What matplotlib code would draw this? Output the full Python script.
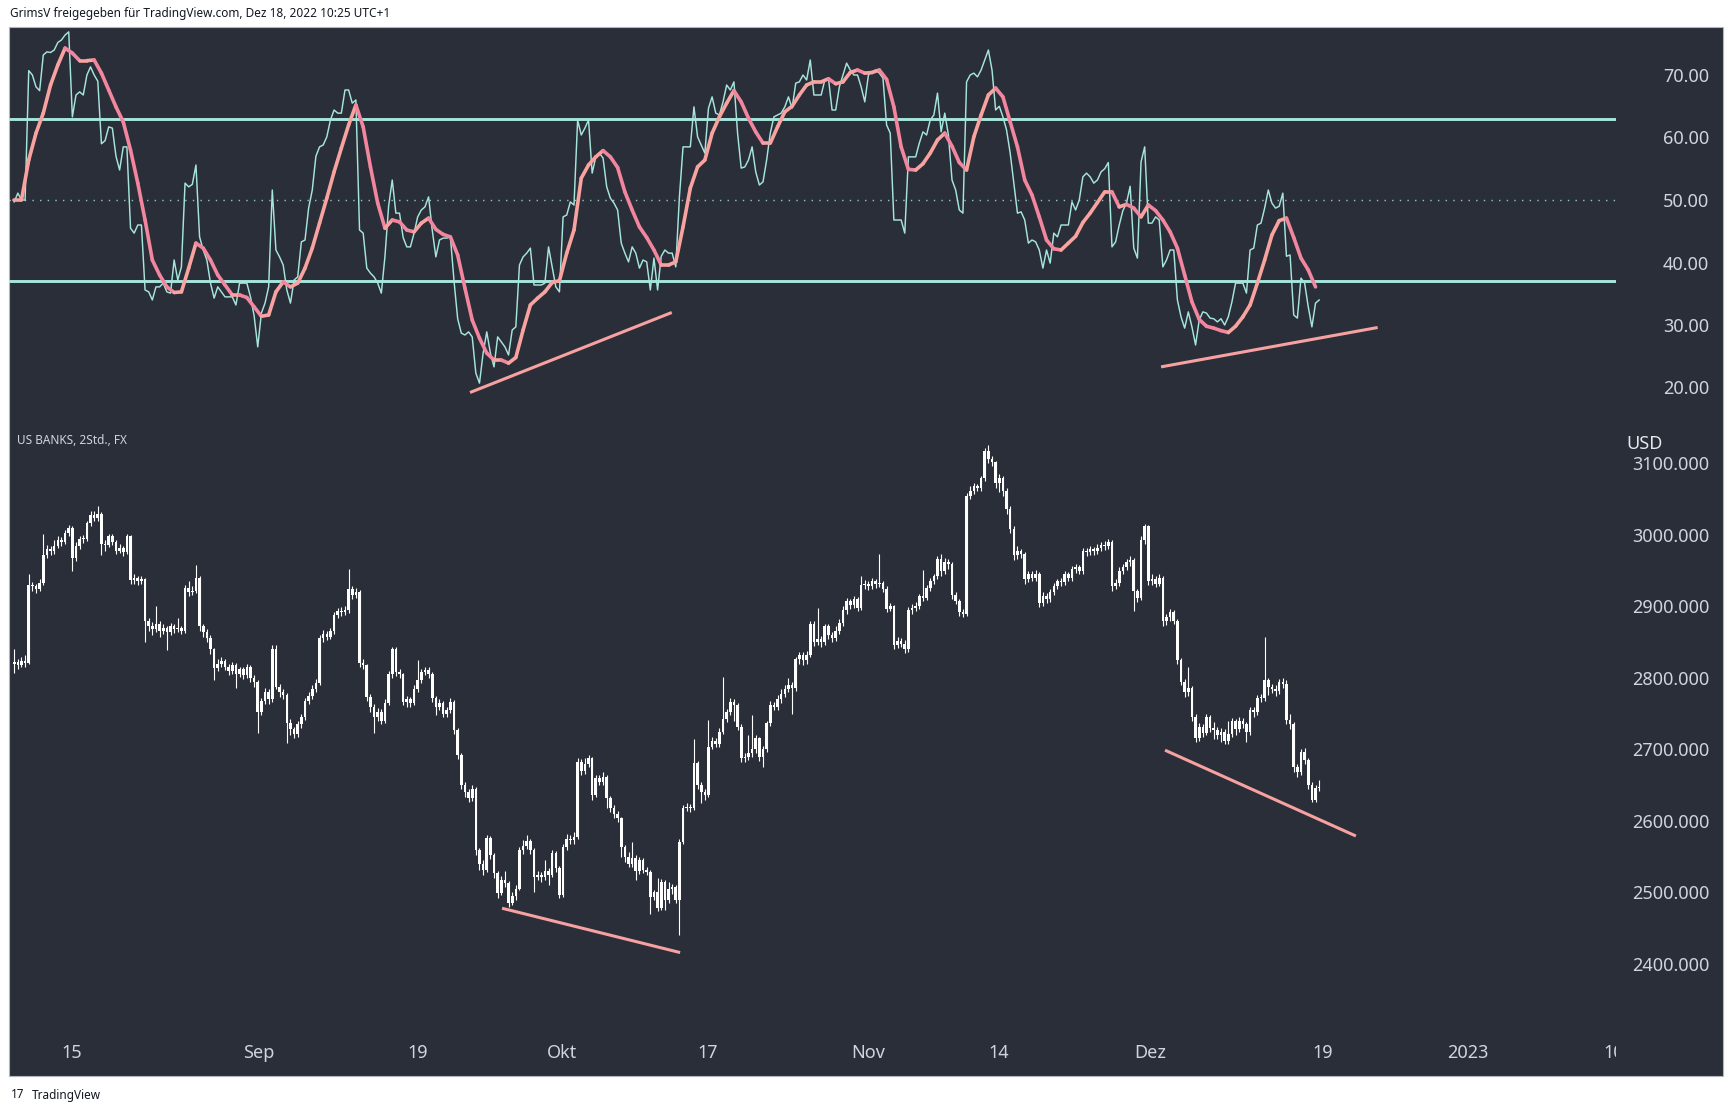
import matplotlib.pyplot as plt
import numpy as np
from matplotlib.collections import LineCollection
from matplotlib.patches import Rectangle

plt.rcParams["font.family"] = ["Noto Sans", "DejaVu Sans"]

W, H = 1734, 1112

# --- US BANKS, 2h candles (Aug 9 .. Dec 16 2022), one entry per bar ---
opens = [
    2820, 2822, 2818, 2824, 2821, 2930, 2928, 2924, 2933, 2972,
    2980, 2977, 2985, 2993, 2990, 3003, 3010, 2968, 2985, 2995,
    2994, 3017, 3028, 3024, 3030, 2988, 2986, 2998, 2990, 2978,
    2982, 2976, 2998, 2937, 2940, 2935, 2938, 2879, 2872, 2868,
    2875, 2866, 2870, 2864, 2872, 2868, 2870, 2866, 2926, 2920,
    2922, 2940, 2872, 2865, 2856, 2840, 2814, 2820, 2824, 2816,
    2810, 2818, 2806, 2812, 2804, 2815, 2800, 2795, 2752, 2768,
    2780, 2770, 2840, 2788, 2780, 2776, 2737, 2728, 2722, 2735,
    2745, 2768, 2775, 2785, 2793, 2856, 2862, 2858, 2866, 2888,
    2894, 2892, 2895, 2924, 2916, 2920, 2821, 2818, 2774, 2760,
    2745, 2752, 2740, 2765, 2805, 2840, 2808, 2805, 2767, 2770,
    2765, 2785, 2797, 2808, 2811, 2805, 2772, 2760, 2765, 2750,
    2755, 2767, 2727, 2692, 2650, 2640, 2632, 2645, 2559, 2540,
    2532, 2576, 2552, 2527, 2499, 2518, 2513, 2485, 2495, 2505,
    2559, 2565, 2572, 2560, 2522, 2524, 2522, 2530, 2525, 2555,
    2534, 2497, 2564, 2575, 2573, 2578, 2683, 2670, 2680, 2688,
    2636, 2660, 2655, 2662, 2632, 2618, 2610, 2604, 2564, 2550,
    2540, 2548, 2530, 2545, 2531, 2529, 2494, 2500, 2478, 2515,
    2490, 2505, 2508, 2489, 2571, 2618, 2620, 2618, 2681, 2650,
    2640, 2636, 2704, 2712, 2708, 2725, 2743, 2752, 2766, 2762,
    2732, 2688, 2690, 2695, 2700, 2716, 2690, 2700, 2737, 2762,
    2760, 2770, 2778, 2785, 2790, 2786, 2826, 2832, 2825, 2832,
    2876, 2850, 2855, 2850, 2872, 2860, 2856, 2866, 2877, 2895,
    2908, 2902, 2910, 2898, 2930, 2932, 2928, 2935, 2931, 2933,
    2925, 2897, 2900, 2846, 2852, 2848, 2840, 2895, 2898, 2900,
    2914, 2912, 2926, 2935, 2942, 2966, 2950, 2962, 2960, 2916,
    2908, 2892, 2890, 3054, 3062, 3068, 3066, 3079, 3117, 3106,
    3102, 3072, 3080, 3062, 3036, 3008, 2972, 2978, 2973, 2938,
    2945, 2940, 2946, 2905, 2915, 2910, 2920, 2928, 2935, 2934,
    2945, 2940, 2952, 2955, 2950, 2978, 2976, 2980, 2977, 2982,
    2986, 2984, 2990, 2928, 2933, 2950, 2955, 2962, 2965, 2921,
    2912, 2993, 3012, 2935, 2938, 2932, 2940, 2879, 2885, 2892,
    2880, 2825, 2795, 2780, 2786, 2746, 2716, 2732, 2723, 2745,
    2730, 2727, 2720, 2725, 2712, 2722, 2740, 2728, 2740, 2735,
    2724, 2755, 2752, 2772, 2772, 2797, 2788, 2784, 2782, 2795,
    2792, 2741, 2735, 2676, 2668, 2697, 2685, 2650, 2630, 2646,
]
closes = [
    2822, 2818, 2824, 2821, 2930, 2928, 2924, 2933, 2972, 2980,
    2977, 2985, 2993, 2990, 3003, 3010, 2968, 2985, 2995, 2994,
    3017, 3028, 3024, 3030, 2988, 2986, 2998, 2990, 2978, 2982,
    2976, 2998, 2937, 2940, 2935, 2938, 2879, 2872, 2868, 2875,
    2866, 2870, 2864, 2872, 2868, 2870, 2866, 2926, 2920, 2922,
    2940, 2872, 2865, 2856, 2840, 2814, 2820, 2824, 2816, 2810,
    2818, 2806, 2812, 2804, 2815, 2800, 2795, 2752, 2768, 2780,
    2770, 2840, 2788, 2780, 2776, 2737, 2728, 2722, 2735, 2745,
    2768, 2775, 2785, 2793, 2856, 2862, 2858, 2866, 2888, 2894,
    2892, 2895, 2924, 2916, 2920, 2821, 2818, 2774, 2760, 2745,
    2752, 2740, 2765, 2805, 2840, 2808, 2805, 2767, 2770, 2765,
    2785, 2797, 2808, 2811, 2805, 2772, 2760, 2765, 2750, 2755,
    2767, 2727, 2692, 2650, 2640, 2632, 2645, 2559, 2540, 2532,
    2576, 2552, 2527, 2499, 2518, 2513, 2485, 2495, 2505, 2559,
    2565, 2572, 2560, 2522, 2524, 2522, 2530, 2525, 2555, 2534,
    2497, 2564, 2575, 2573, 2578, 2683, 2670, 2680, 2688, 2636,
    2660, 2655, 2662, 2632, 2618, 2610, 2604, 2564, 2550, 2540,
    2548, 2530, 2545, 2531, 2529, 2494, 2500, 2478, 2515, 2490,
    2505, 2508, 2489, 2571, 2618, 2620, 2618, 2681, 2650, 2640,
    2636, 2704, 2712, 2708, 2725, 2743, 2752, 2766, 2762, 2732,
    2688, 2690, 2695, 2700, 2716, 2690, 2700, 2737, 2762, 2760,
    2770, 2778, 2785, 2790, 2786, 2826, 2832, 2825, 2832, 2876,
    2850, 2855, 2850, 2872, 2860, 2856, 2866, 2877, 2895, 2908,
    2902, 2910, 2898, 2930, 2932, 2928, 2935, 2931, 2933, 2925,
    2897, 2900, 2846, 2852, 2848, 2840, 2895, 2898, 2900, 2914,
    2912, 2926, 2935, 2942, 2966, 2950, 2962, 2960, 2916, 2908,
    2892, 2890, 3054, 3062, 3068, 3066, 3079, 3117, 3106, 3102,
    3072, 3080, 3062, 3036, 3008, 2972, 2978, 2973, 2938, 2945,
    2940, 2946, 2905, 2915, 2910, 2920, 2928, 2935, 2934, 2945,
    2940, 2952, 2955, 2950, 2978, 2976, 2980, 2977, 2982, 2986,
    2984, 2990, 2928, 2933, 2950, 2955, 2962, 2965, 2921, 2912,
    2993, 3012, 2935, 2938, 2932, 2940, 2879, 2885, 2892, 2880,
    2825, 2795, 2780, 2786, 2746, 2716, 2732, 2723, 2745, 2730,
    2727, 2720, 2725, 2712, 2722, 2740, 2728, 2740, 2735, 2724,
    2755, 2752, 2772, 2772, 2797, 2788, 2784, 2782, 2795, 2792,
    2741, 2735, 2676, 2668, 2697, 2685, 2650, 2630, 2646, 2648,
]
highs = [
    2840, 2826, 2829, 2832, 2945, 2934, 2931, 2938, 3002, 2986,
    2984, 2993, 2998, 2997, 3007, 3014, 3012, 2990, 2999, 3000,
    3020, 3033, 3033, 3041, 3032, 2993, 3002, 3001, 2993, 2988,
    2985, 3002, 3000, 2945, 2943, 2942, 2940, 2884, 2878, 2900,
    2879, 2876, 2873, 2877, 2875, 2884, 2873, 2930, 2935, 2928,
    2958, 2942, 2876, 2868, 2860, 2842, 2826, 2829, 2827, 2820,
    2823, 2821, 2816, 2815, 2820, 2818, 2804, 2797, 2772, 2786,
    2784, 2846, 2846, 2792, 2784, 2779, 2742, 2732, 2740, 2749,
    2772, 2780, 2790, 2798, 2860, 2867, 2866, 2870, 2892, 2898,
    2899, 2900, 2952, 2928, 2926, 2923, 2826, 2820, 2778, 2764,
    2758, 2756, 2770, 2810, 2844, 2843, 2812, 2807, 2775, 2774,
    2790, 2825, 2812, 2816, 2815, 2808, 2775, 2770, 2768, 2760,
    2772, 2769, 2730, 2695, 2654, 2645, 2650, 2647, 2562, 2545,
    2580, 2579, 2555, 2530, 2523, 2530, 2516, 2500, 2510, 2563,
    2574, 2580, 2575, 2562, 2530, 2528, 2545, 2534, 2560, 2558,
    2537, 2568, 2582, 2580, 2585, 2688, 2686, 2688, 2692, 2690,
    2665, 2664, 2668, 2664, 2635, 2622, 2614, 2606, 2567, 2556,
    2570, 2552, 2550, 2548, 2536, 2532, 2504, 2520, 2519, 2518,
    2515, 2512, 2511, 2575, 2622, 2625, 2624, 2715, 2684, 2654,
    2645, 2741, 2718, 2716, 2730, 2802, 2757, 2772, 2770, 2765,
    2735, 2695, 2720, 2748, 2720, 2718, 2705, 2740, 2768, 2766,
    2776, 2784, 2790, 2800, 2795, 2830, 2837, 2836, 2838, 2880,
    2879, 2898, 2859, 2876, 2875, 2865, 2872, 2882, 2900, 2912,
    2911, 2914, 2913, 2942, 2937, 2936, 2940, 2939, 2974, 2936,
    2928, 2905, 2902, 2858, 2856, 2853, 2899, 2903, 2906, 2918,
    2951, 2930, 2940, 2946, 2970, 2974, 2968, 2966, 2962, 2920,
    2911, 2896, 3058, 3068, 3073, 3071, 3083, 3121, 3126, 3110,
    3104, 3085, 3083, 3066, 3040, 3012, 2984, 2981, 2976, 2950,
    2949, 2951, 2948, 2920, 2919, 2925, 2933, 2939, 2940, 2950,
    2948, 2957, 2960, 2958, 2982, 2982, 2985, 2983, 2987, 2990,
    2992, 2995, 2993, 2938, 2955, 2960, 2966, 2970, 2968, 2925,
    2998, 3015, 3014, 2946, 2942, 2945, 2942, 2890, 2897, 2895,
    2882, 2828, 2798, 2816, 2789, 2750, 2737, 2736, 2749, 2748,
    2738, 2731, 2730, 2728, 2740, 2744, 2743, 2745, 2744, 2739,
    2760, 2760, 2776, 2778, 2858, 2800, 2792, 2790, 2799, 2800,
    2797, 2750, 2738, 2680, 2700, 2702, 2688, 2654, 2650, 2657,
]
lows = [
    2807, 2812, 2815, 2816, 2819, 2922, 2919, 2921, 2930, 2968,
    2972, 2974, 2982, 2985, 2988, 2999, 2949, 2963, 2981, 2989,
    2991, 3013, 3019, 3020, 2972, 2978, 2983, 2986, 2974, 2975,
    2971, 2973, 2932, 2931, 2930, 2932, 2851, 2866, 2860, 2865,
    2858, 2862, 2839, 2860, 2863, 2864, 2861, 2863, 2915, 2916,
    2919, 2866, 2858, 2850, 2834, 2797, 2810, 2815, 2811, 2804,
    2806, 2786, 2801, 2799, 2800, 2795, 2788, 2723, 2748, 2764,
    2764, 2767, 2784, 2774, 2770, 2709, 2720, 2716, 2718, 2730,
    2741, 2763, 2771, 2780, 2790, 2851, 2853, 2854, 2862, 2884,
    2887, 2888, 2891, 2911, 2912, 2816, 2812, 2768, 2752, 2723,
    2740, 2735, 2737, 2762, 2800, 2803, 2800, 2762, 2760, 2759,
    2762, 2781, 2793, 2804, 2800, 2766, 2748, 2755, 2745, 2746,
    2751, 2722, 2686, 2645, 2633, 2627, 2628, 2552, 2531, 2525,
    2529, 2547, 2520, 2493, 2496, 2508, 2480, 2482, 2490, 2503,
    2554, 2561, 2554, 2500, 2518, 2515, 2518, 2510, 2521, 2529,
    2493, 2494, 2560, 2568, 2568, 2575, 2664, 2666, 2675, 2630,
    2633, 2650, 2650, 2618, 2612, 2604, 2598, 2550, 2543, 2535,
    2536, 2518, 2526, 2527, 2524, 2470, 2490, 2474, 2475, 2475,
    2486, 2498, 2485, 2441, 2568, 2614, 2613, 2615, 2645, 2625,
    2630, 2633, 2700, 2703, 2704, 2721, 2739, 2748, 2740, 2727,
    2682, 2683, 2685, 2690, 2695, 2684, 2676, 2697, 2733, 2755,
    2755, 2765, 2773, 2780, 2750, 2782, 2820, 2818, 2820, 2829,
    2845, 2846, 2844, 2846, 2854, 2850, 2852, 2862, 2873, 2890,
    2897, 2898, 2893, 2895, 2925, 2923, 2924, 2926, 2927, 2920,
    2892, 2893, 2840, 2842, 2843, 2835, 2837, 2890, 2894, 2896,
    2907, 2909, 2922, 2931, 2938, 2943, 2946, 2953, 2910, 2903,
    2887, 2885, 2887, 3050, 3057, 3061, 3062, 3075, 3100, 3097,
    3066, 3060, 3055, 3030, 3003, 2965, 2966, 2968, 2932, 2934,
    2935, 2936, 2899, 2900, 2905, 2906, 2916, 2924, 2929, 2930,
    2935, 2936, 2947, 2945, 2946, 2970, 2972, 2972, 2973, 2978,
    2979, 2980, 2922, 2924, 2929, 2946, 2951, 2957, 2893, 2906,
    2909, 2988, 2930, 2930, 2927, 2928, 2873, 2874, 2880, 2875,
    2820, 2790, 2774, 2775, 2740, 2710, 2712, 2718, 2720, 2725,
    2715, 2714, 2711, 2707, 2708, 2718, 2720, 2724, 2730, 2711,
    2720, 2745, 2748, 2767, 2768, 2776, 2779, 2775, 2778, 2786,
    2736, 2728, 2668, 2662, 2664, 2680, 2645, 2626, 2627, 2642,
]

# --- RSI (one value per bar) and its moving average (every second bar) ---
rsi = [
    49.7, 51.1, 50.0, 50.0, 70.7, 70.0, 68.1, 67.5, 73.2, 73.7,
    73.6, 74.0, 75.2, 75.6, 76.4, 76.9, 63.3, 66.8, 67.3, 66.8,
    70.0, 71.3, 70.0, 69.0, 59.0, 59.5, 61.7, 61.5, 57.0, 54.8,
    58.5, 58.5, 45.5, 44.7, 46.0, 46.0, 35.6, 35.3, 34.0, 36.1,
    36.1, 36.7, 35.3, 35.1, 40.4, 37.2, 39.3, 52.7, 52.1, 52.5,
    55.6, 44.1, 42.0, 40.4, 36.7, 34.3, 36.1, 35.3, 34.5, 34.5,
    34.5, 33.2, 36.7, 36.7, 36.7, 34.5, 31.5, 26.5, 31.9, 33.5,
    36.1, 51.6, 42.0, 40.9, 39.6, 35.6, 33.5, 37.2, 37.7, 43.3,
    43.6, 48.7, 51.6, 57.0, 58.5, 58.8, 60.1, 62.8, 64.4, 63.9,
    63.9, 67.6, 67.6, 65.5, 66.0, 45.2, 44.7, 39.1, 38.3, 37.7,
    36.7, 35.1, 41.0, 49.0, 53.2, 47.9, 47.9, 44.0, 42.5, 42.5,
    44.7, 47.3, 48.4, 48.9, 50.5, 45.2, 40.9, 43.6, 43.9, 43.9,
    44.1, 37.0, 31.0, 28.7, 28.4, 28.9, 28.1, 22.3, 20.7, 25.5,
    28.9, 25.5, 23.3, 28.1, 27.3, 26.5, 25.2, 29.2, 29.7, 39.6,
    40.9, 41.5, 42.3, 36.4, 36.4, 36.4, 36.7, 42.5, 39.3, 36.1,
    35.3, 47.3, 47.6, 49.7, 49.2, 62.8, 60.4, 61.5, 62.8, 54.3,
    56.9, 57.5, 56.7, 52.1, 50.3, 49.5, 48.4, 43.1, 41.5, 40.1,
    42.5, 41.5, 39.1, 40.4, 40.1, 35.6, 40.7, 35.6, 41.0, 42.0,
    41.5, 41.5, 39.3, 50.5, 58.5, 58.5, 58.5, 64.9, 60.1, 58.8,
    57.5, 64.7, 66.5, 63.9, 63.6, 65.7, 68.4, 67.6, 68.9, 60.7,
    55.1, 55.3, 56.4, 58.5, 54.5, 52.4, 52.9, 56.4, 60.7, 63.3,
    63.6, 63.9, 64.9, 66.5, 64.7, 68.7, 68.9, 70.0, 69.2, 72.4,
    66.8, 66.8, 66.8, 69.2, 69.5, 64.4, 64.4, 68.1, 70.0, 71.9,
    70.8, 70.0, 70.0, 68.1, 65.7, 70.0, 70.5, 70.8, 70.3, 69.5,
    62.0, 60.7, 46.8, 46.8, 46.8, 44.7, 56.9, 56.9, 56.9, 59.1,
    60.9, 60.4, 62.8, 63.6, 67.1, 60.9, 63.9, 60.4, 53.2, 51.6,
    48.4, 47.9, 68.9, 70.0, 70.3, 69.7, 70.8, 72.4, 74.0, 70.8,
    64.4, 65.0, 63.3, 61.2, 57.5, 52.7, 47.9, 48.1, 46.8, 43.1,
    43.6, 43.3, 42.0, 39.1, 42.0, 39.9, 44.7, 44.1, 46.0, 46.0,
    46.0, 49.7, 48.4, 50.0, 53.7, 54.3, 53.7, 52.7, 53.2, 54.5,
    55.0, 56.0, 42.5, 43.3, 46.0, 48.3, 49.5, 52.2, 42.3, 40.7,
    56.1, 58.5, 46.3, 46.3, 47.3, 46.8, 39.3, 40.4, 42.0, 42.0,
    34.0, 31.3, 29.5, 32.1, 29.7, 26.8, 30.8, 32.1, 31.9, 31.1,
    31.0, 30.5, 31.0, 30.0, 31.3, 33.7, 36.7, 36.7, 36.7, 35.1,
    42.0, 42.3, 46.0, 46.3, 48.7, 51.6, 49.5, 48.7, 49.0, 51.1,
    41.0, 41.2, 31.6, 31.1, 37.5, 36.7, 32.9, 29.7, 33.5, 34.0,
]
rsi_ma = [
    50.0, 50.0, 56.4, 60.7, 63.9, 68.4, 71.6, 74.3, 73.5, 72.3,
    72.3, 72.4, 70.3, 67.6, 64.9, 62.5, 58.0, 52.7, 46.8, 40.4,
    38.0, 36.1, 35.2, 35.3, 39.1, 43.1, 42.3, 40.4, 38.0, 36.4,
    34.8, 34.8, 34.4, 32.9, 31.4, 31.6, 35.3, 36.9, 36.1, 36.7,
    39.1, 42.3, 46.3, 50.3, 54.5, 58.3, 62.0, 65.2, 61.7, 55.3,
    49.5, 45.5, 46.8, 46.5, 45.2, 44.9, 46.3, 47.1, 45.3, 44.5,
    44.1, 41.2, 35.9, 30.8, 27.9, 25.5, 24.4, 24.4, 23.9, 24.8,
    29.2, 33.2, 34.3, 35.3, 36.8, 37.1, 41.5, 45.2, 53.5, 55.6,
    56.9, 57.9, 56.9, 55.2, 51.3, 48.4, 45.7, 44.0, 42.0, 39.6,
    39.6, 40.1, 45.7, 51.9, 55.3, 56.4, 60.7, 63.3, 65.5, 67.5,
    65.7, 63.1, 60.9, 59.1, 59.1, 61.7, 64.1, 65.0, 66.8, 68.4,
    68.9, 68.9, 69.4, 68.6, 68.9, 70.4, 70.8, 70.3, 70.4, 70.8,
    69.3, 64.9, 58.5, 54.9, 54.8, 55.8, 57.5, 59.6, 60.7, 58.6,
    56.0, 54.8, 60.1, 63.6, 66.8, 67.9, 66.5, 62.5, 58.5, 53.2,
    50.8, 47.3, 43.6, 42.2, 42.0, 43.1, 44.2, 46.4, 47.9, 49.6,
    51.3, 51.3, 48.9, 49.3, 48.7, 47.3, 49.2, 48.3, 46.8, 44.9,
    42.3, 38.0, 33.7, 30.9, 29.8, 29.5, 29.1, 28.8, 29.8, 31.3,
    33.2, 36.7, 40.4, 44.4, 46.7, 47.1, 44.0, 40.7, 38.8, 36.1,
]
rsi_levels = [63, 37]
rsi_mid = 50

# hand-drawn divergence lines (bar index, value)
rsi_div = [((125.4, 19.2), (180.9, 32.0)), ((315.5, 23.3), (375.1, 29.6))]
price_div = [((134.2, 2478), (183.2, 2416)), ((316.6, 2699), (369.1, 2579))]

rsi_ticks = [20, 30, 40, 50, 60, 70]
price_ticks = [2400, 2500, 2600, 2700, 2800, 2900, 3000, 3100]
time_labels = ["15", "Sep", "19", "Okt", "17", "Nov", "14", "Dez", "19", "2023", "10"]
time_pos = [15.9, 67.4, 111.1, 150.7, 190.9, 234.9, 270.9, 312.5, 360.1, 399.9, 440.0]

BG = "#2a2e39"
TXT = "#d1d4dc"
CYAN = "#a6e5dc"
PINK_UP = "#f9a3a0"
PINK_DN = "#f2869f"
DIV = "#f7a1a1"


def fig_box(x0, y0, x1, y1):
    return [x0 / W, 1 - y1 / H, (x1 - x0) / W, (y1 - y0) / H]


def clean(ax):
    ax.set_facecolor("none")
    for s in ax.spines.values():
        s.set_visible(False)
    ax.tick_params(length=0)


fig = plt.figure(figsize=(W / 100, H / 100), dpi=100)
fig.patch.set_facecolor("white")
fig.patches.append(Rectangle((9 / W, 1 - 1076 / H), (1723 - 9) / W, (1076 - 27) / H,
                             transform=fig.transFigure, facecolor=BG,
                             edgecolor="#b2b5be", lw=0.8, zorder=-1))

xlim = ((9 - 14.2) / 3.635, (1616 - 14.2) / 3.635)

# ---------------- RSI pane ----------------
ax1 = fig.add_axes(fig_box(9, 27, 1616, 425))
clean(ax1)
for lv in rsi_levels:
    ax1.axhline(lv, color=CYAN, lw=2.1, zorder=1)
ax1.axhline(rsi_mid, color=CYAN, lw=1.0, ls=(0, (1, 4.5)), alpha=0.85, zorder=1)
bars = np.arange(len(rsi))
ax1.plot(bars, rsi, color=CYAN, lw=1.05, zorder=2)

ma_x = np.arange(len(rsi_ma)) * 2
ma_y = np.array(rsi_ma)
segs = np.stack([np.column_stack([ma_x[:-1], ma_y[:-1]]),
                 np.column_stack([ma_x[1:], ma_y[1:]])], axis=1)
cols = [PINK_UP if b >= a else PINK_DN for a, b in zip(ma_y[:-1], ma_y[1:])]
ax1.add_collection(LineCollection(segs, colors=cols, linewidths=2.6,
                                  capstyle="round", joinstyle="round", zorder=3))
for (x0, y0), (x1, y1) in rsi_div:
    ax1.plot([x0, x1], [y0, y1], color=DIV, lw=2.2, solid_capstyle="butt", zorder=3)

ax1.set_xlim(*xlim)
ax1.set_ylim(14.0, 77.68)
ax1.set_xticks([])
ax1.yaxis.tick_right()
ax1.set_yticks(rsi_ticks)
ax1.set_yticklabels([f"{v:.2f}" for v in rsi_ticks])
ax1.tick_params(axis="y", pad=67, labelsize=13, labelcolor=TXT)
for lab in ax1.get_yticklabels():
    lab.set_horizontalalignment("right")

# ---------------- price pane ----------------
ax2 = fig.add_axes(fig_box(9, 427, 1616, 1030))
clean(ax2)
o = np.array(opens, float)
c = np.array(closes, float)
hi = np.array(highs, float)
lo = np.array(lows, float)
x = np.arange(len(c))
ax2.vlines(x, lo, hi, color="white", lw=0.8, zorder=2)
body_lo = np.minimum(o, c)
body_h = np.maximum(np.abs(c - o), 1.5)
ax2.bar(x, body_h, bottom=body_lo, width=0.72, color="white", lw=0, zorder=3)
for (x0, y0), (x1, y1) in price_div:
    ax2.plot([x0, x1], [y0, y1], color=DIV, lw=2.2, solid_capstyle="butt", zorder=4)

ax2.set_xlim(*xlim)
ax2.set_ylim(2307.7, 3151)
ax2.set_xticks([])
ax2.yaxis.tick_right()
ax2.set_yticks(price_ticks)
ax2.set_yticklabels([f"{v:.3f}" for v in price_ticks])
ax2.tick_params(axis="y", pad=67, labelsize=13, labelcolor=TXT)
for lab in ax2.get_yticklabels():
    lab.set_horizontalalignment("right")

# ---------------- time scale ----------------
axt = fig.add_axes(fig_box(9, 1030, 1616, 1076))
clean(axt)
axt.set_xlim(*xlim)
axt.set_ylim(0, 1)
axt.set_xticks([])
axt.set_yticks([])
for pos, lab in zip(time_pos, time_labels):
    axt.text(pos, 0.5, lab, ha="center", va="center", fontsize=13,
             color=TXT, clip_on=True)

# ---------------- texts ----------------
fig.text(10 / W, 1 - 14 / H,
         "GrimsV freigegeben für TradingView.com, Dez 18, 2022 10:25 UTC+1",
         fontsize=8.5, color="#131722", va="center", ha="left")
fig.text(17 / W, 1 - 441 / H, "US BANKS, 2Std., FX", fontsize=8.5,
         color=TXT, va="center", ha="left")
fig.text(1626 / W, 1 - 444 / H, "USD", fontsize=13, color="#e6e8ee",
         va="center", ha="left")
fig.text(11 / W, 1 - 1095 / H, "17", fontsize=8.5, fontweight="bold",
         color="#131722", va="center", ha="left")
fig.text(32 / W, 1 - 1095 / H, "TradingView", fontsize=8.5,
         color="#131722", va="center", ha="left")

fig.savefig("out.png", dpi=100, facecolor="white")
